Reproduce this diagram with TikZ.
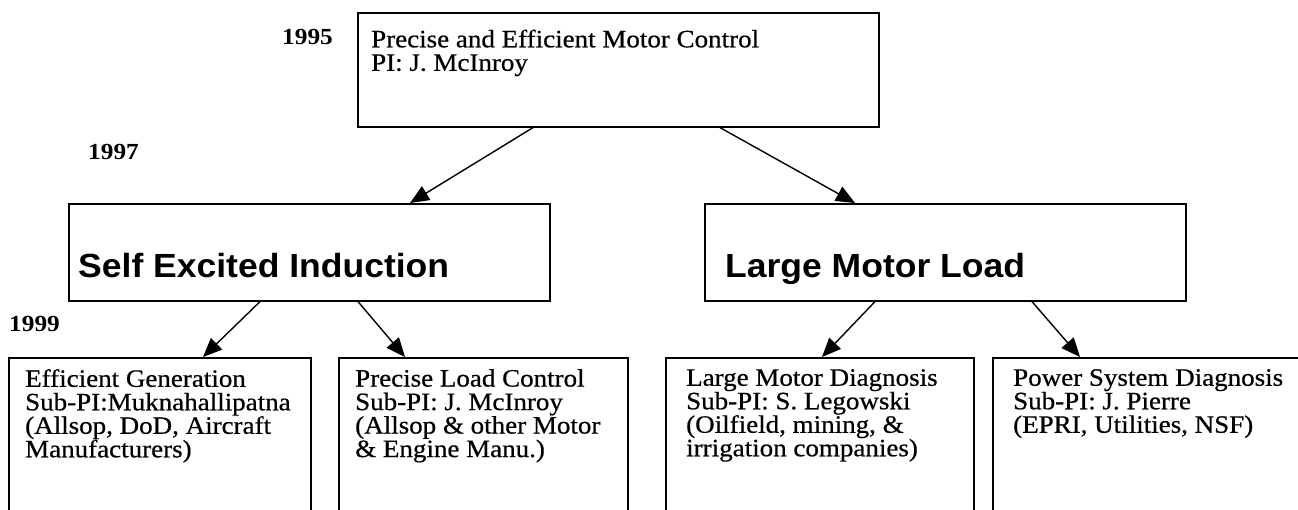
\documentclass[tikz,border=0pt]{standalone}
\usepackage{fontspec}
\setmainfont{Liberation Serif}[FakeStretch=1.08, FakeBold=0.6]
\newfontfamily\yearfont{Liberation Serif}[FakeStretch=1.1]
\newfontfamily\headsans{Liberation Sans}[FakeStretch=1.06]
\usetikzlibrary{arrows.meta}
\tikzset{
  box/.style={draw, line width=1.6pt, inner sep=0pt, anchor=north west},
  body/.style={inner sep=0pt, anchor=north west, align=left,
    font=\fontsize{25}{23.5}\selectfont},
  year/.style={inner sep=0pt, anchor=base west,
    font=\yearfont\bfseries\fontsize{23}{24}\selectfont},
  head/.style={inner sep=0pt, anchor=base west,
    font=\headsans\bfseries\fontsize{33.5}{36}\selectfont},
  link/.style={line width=1.4pt, -{Triangle[length=19pt,width=16pt]}}
}
\begin{document}
\begin{tikzpicture}[x=1pt, y=-1pt]
\useasboundingbox (0,0) rectangle (1298,510);
\clip (0,0) rectangle (1298,510);

% year labels
\node[year] (y95) at (282,45) {1995};
\node[year] (y97) at (88,160) {1997};
\node[year] (y99) at (9,332) {1999};

% top level project
\node[box, minimum width=521pt, minimum height=114pt] (top) at (357,12) {};
\node[body] (toptxt) at (371,29.5) {Precise and Efficient Motor Control\\PI: J. McInroy};

% second level
\node[box, minimum width=481pt, minimum height=97pt] (midL) at (68,203) {};
\node[head] (midLtxt) at (78,278) {Self Excited Induction};
\node[box, minimum width=481pt, minimum height=97pt] (midR) at (704,203) {};
\node[head] (midRtxt) at (725,278) {Large Motor Load};

% third level (boxes run past the lower edge)
\node[box, minimum width=302pt, minimum height=180pt] (b1) at (8,357) {};
\node[box, minimum width=289pt, minimum height=180pt] (b2) at (338,357) {};
\node[box, minimum width=308pt, minimum height=180pt] (b3) at (665,357) {};
\node[box, minimum width=330pt, minimum height=180pt] (b4) at (992,357) {};

\node[body] (b1txt) at (25,369) {Efficient Generation\\Sub-PI:Muknahallipatna\\(Allsop, DoD, Aircraft\\Manufacturers)};
\node[body] (b2txt) at (355,369) {Precise Load Control\\Sub-PI: J. McInroy\\(Allsop \& other Motor\\\& Engine Manu.)};
\node[body] (b3txt) at (686,369) {Large Motor Diagnosis\\Sub-PI: S. Legowski\\(Oilfield, mining, \&\\irrigation companies)};
\node[body] (b4txt) at (1013,369) {Power System Diagnosis\\Sub-PI: J. Pierre\\(EPRI, Utilities, NSF)};

% connectors
\draw[link] ([xshift=176pt]top.south west) -- ([xshift=342pt]midL.north west);
\draw[link] ([xshift=363pt]top.south west) -- ([xshift=151pt]midR.north west);
\draw[link] ([xshift=192pt]midL.south west) -- ([xshift=195pt]b1.north west);
\draw[link] ([xshift=290pt]midL.south west) -- ([xshift=67pt]b2.north west);
\draw[link] ([xshift=171pt]midR.south west) -- ([xshift=157pt]b3.north west);
\draw[link] ([xshift=328pt]midR.south west) -- ([xshift=88pt]b4.north west);
\end{tikzpicture}
\end{document}
